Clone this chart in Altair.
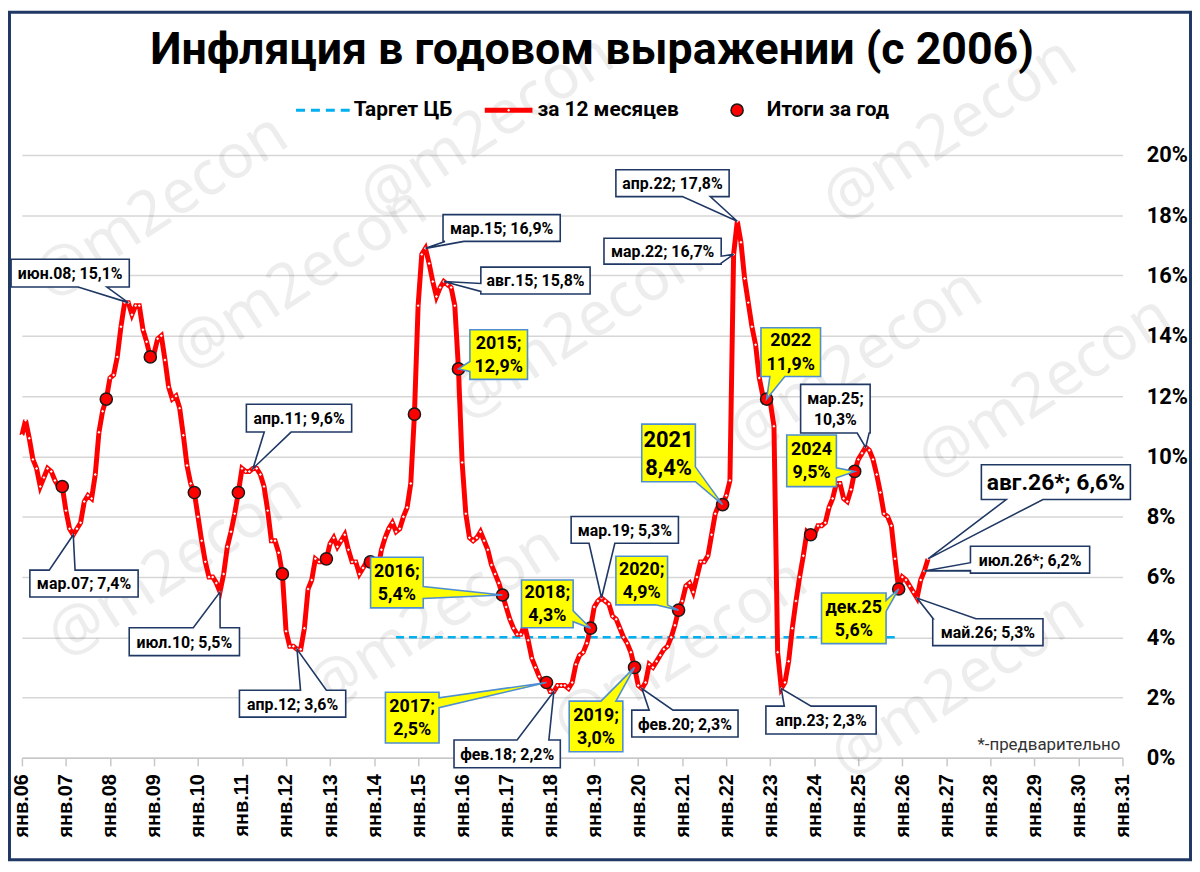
import altair as alt
import pandas as pd

# ---------------- data ----------------
cpi_2006 = [10.7, 11.2, 10.6, 9.9, 9.6, 9.0, 9.3, 9.6, 9.5, 9.2, 9.0, 9.0]
cpi_2007 = [8.2, 7.6, 7.4, 7.6, 7.8, 8.5, 8.7, 8.6, 9.4, 10.8, 11.5, 11.9]
cpi_2008 = [12.6, 12.7, 13.3, 14.3, 15.1, 15.1, 14.7, 15.0, 15.0, 14.2, 13.8, 13.3]
cpi_2009 = [13.4, 13.9, 14.0, 13.2, 12.3, 11.9, 12.0, 11.6, 10.7, 9.7, 9.1, 8.8]
cpi_2010 = [8.0, 7.2, 6.5, 6.0, 6.0, 5.8, 5.5, 6.1, 7.0, 7.5, 8.1, 8.8]
cpi_2011 = [9.6, 9.5, 9.5, 9.6, 9.6, 9.4, 9.0, 8.2, 7.2, 7.2, 6.8, 6.1]
cpi_2012 = [4.2, 3.7, 3.7, 3.6, 3.6, 4.3, 5.6, 5.9, 6.6, 6.5, 6.5, 6.6]
cpi_2013 = [7.1, 7.3, 7.0, 7.2, 7.4, 6.9, 6.5, 6.5, 6.1, 6.3, 6.5, 6.5]
cpi_2014 = [6.1, 6.2, 6.9, 7.3, 7.6, 7.8, 7.5, 7.6, 8.0, 8.3, 9.1, 11.4]
cpi_2015 = [15.0, 16.7, 16.9, 16.4, 15.8, 15.3, 15.6, 15.8, 15.7, 15.6, 15.0, 12.9]
cpi_2016 = [9.8, 8.1, 7.3, 7.2, 7.3, 7.5, 7.2, 6.9, 6.4, 6.1, 5.8, 5.4]
cpi_2017 = [5.0, 4.6, 4.3, 4.1, 4.1, 4.4, 3.9, 3.3, 3.0, 2.7, 2.5, 2.5]
cpi_2018 = [2.2, 2.2, 2.4, 2.4, 2.4, 2.3, 2.5, 3.1, 3.4, 3.5, 3.8, 4.3]
cpi_2019 = [5.0, 5.2, 5.3, 5.2, 5.1, 4.7, 4.6, 4.3, 4.0, 3.8, 3.5, 3.0]
cpi_2020 = [2.4, 2.3, 2.5, 3.1, 3.0, 3.2, 3.4, 3.6, 3.7, 4.0, 4.4, 4.9]
cpi_2021 = [5.2, 5.7, 5.8, 5.5, 6.0, 6.5, 6.5, 6.7, 7.4, 8.1, 8.4, 8.4]
cpi_2022 = [8.7, 9.2, 16.7, 17.8, 17.1, 15.9, 15.1, 14.3, 13.7, 12.6, 12.0, 11.9]
cpi_2023 = [11.8, 11.0, 3.5, 2.3, 2.5, 3.2, 4.3, 5.2, 6.0, 6.7, 7.5, 7.4]
cpi_2024 = [7.4, 7.7, 7.7, 7.8, 8.3, 8.6, 9.1, 9.1, 8.6, 8.5, 8.9, 9.5]
cpi_2025 = [9.9, 10.1, 10.3, 10.2, 9.9, 9.4, 8.8, 8.1, 8.0, 7.7, 6.6, 5.6]
cpi_2026 = [6.0, 5.9, 5.7, 5.5, 5.3, 5.9, 6.2, 6.6]

series_years = list(range(2006, 2027))
series_values = [cpi_2006, cpi_2007, cpi_2008, cpi_2009, cpi_2010, cpi_2011, cpi_2012,
                 cpi_2013, cpi_2014, cpi_2015, cpi_2016, cpi_2017, cpi_2018, cpi_2019,
                 cpi_2020, cpi_2021, cpi_2022, cpi_2023, cpi_2024, cpi_2025, cpi_2026]

annual_years = list(range(2006, 2026))
annual_values = [9.0, 11.9, 13.3, 8.8, 8.8, 6.1, 6.6, 6.5, 11.4, 12.9,
                 5.4, 2.5, 4.3, 3.0, 4.9, 8.4, 11.9, 7.4, 9.5, 5.6]

target_value = 4.0
target_start = (2014, 7)
target_end = (2025, 12)

x_tick_years = list(range(2006, 2032))
y_ticks = list(range(0, 21, 2))

title_text = "Инфляция в годовом выражении (с 2006)"
legend_labels = ["Таргет ЦБ", "за 12 месяцев", "Итоги за год"]
footnote = "*-предварительно"
watermark = "@m2econ"

# callout texts and the month they point to
callout_labels = [
    ("июн.08; 15,1%", 2008, 6), ("мар.07; 7,4%", 2007, 3), ("июл.10; 5,5%", 2010, 7),
    ("апр.11; 9,6%", 2011, 4), ("апр.12; 3,6%", 2012, 4), ("мар.15; 16,9%", 2015, 3),
    ("авг.15; 15,8%", 2015, 8), ("фев.18; 2,2%", 2018, 2), ("мар.19; 5,3%", 2019, 3),
    ("фев.20; 2,3%", 2020, 2), ("апр.22; 17,8%", 2022, 4), ("мар.22; 16,7%", 2022, 3),
    ("апр.23; 2,3%", 2023, 4), ("мар.25;\n10,3%", 2025, 3), ("май.26; 5,3%", 2026, 5),
    ("июл.26*; 6,2%", 2026, 7), ("авг.26*; 6,6%", 2026, 8),
    ("2015;\n12,9%", 2015, 12), ("2016;\n5,4%", 2016, 12), ("2017;\n2,5%", 2017, 12),
    ("2018;\n4,3%", 2018, 12), ("2019;\n3,0%", 2019, 12), ("2020;\n4,9%", 2020, 12),
    ("2021\n8,4%", 2021, 12), ("2022\n11,9%", 2022, 12), ("2024\n9,5%", 2024, 12),
    ("дек.25\n5,6%", 2025, 12),
]

# ---------------- layout of callouts (pixel offsets from the pointed point) ----------------
# (box dx, box dy, box w, box h, wedge edge, wedge a, wedge b, style, font size)
callout_layout = [
    (-58.5, -29.7, 119, 28, "bottom", 8, 37, "white", 16),
    (10.8, 49.1, 109, 27, "top", -35, -9, "white", 16),
    (-35.9, 50, 111, 28, "top", 9, 36, "white", 16),
    (46.3, -50.6, 106, 28, "bottom", -35, -8, "white", 16),
    (-4.5, 54.8, 107, 27, "top", 8, 34, "white", 16),
    (76.7, -20.5, 118, 27, "bottom", -57, -38, "white", 16),
    (92.3, -1, 110, 27, "left", 3, 11, "white", 16),
    (-47, 62.8, 107, 28, "top", 10, 42, "white", 16),
    (23.4, -68.6, 108, 27, "bottom", -36, -10, "white", 16),
    (43.3, 35.3, 107, 27, "top", -36, -12, "white", 16),
    (-65.2, -38.3, 114, 27, "bottom", 10, 38, "white", 16),
    (-71.5, -3.2, 118, 26, "right", 5, 12, "white", 16),
    (40, 31.8, 111, 28, "top", -37, -10, "white", 16),
    (-30.5, -38.9, 70, 49, "bottom", 22, 34, "white", 16),
    (71.3, 34.4, 111, 27, "top", -55, -12, "white", 16),
    (106.4, -11.3, 120, 27, "left", 3, 11, "white", 16),
    (128.7, -77.2, 150, 35, "bottom", -50, -13, "white", 23),
    (40.5, -14.5, 58, 50, "left", 7, 17, "yellow", 18),
    (-106.3, -12.6, 53, 51, "right", 4, 16, "yellow", 18),
    (-135.2, 35.4, 54, 51, "right", -20, -10, "yellow", 18),
    (-43.5, -24.5, 52, 48, "right", 7, 18, "yellow", 18),
    (-38.8, 59.5, 54, 51, "top", 5, 20, "yellow", 18),
    (-37.1, -29.8, 52, 49, "bottom", 14, 26, "yellow", 18),
    (-54.4, -52, 54, 58, "right", 14, 29, "yellow", 22),
    (24.3, -47.3, 60, 49, "bottom", -21, -6, "yellow", 18),
    (-43.4, -10.7, 50, 52, "right", 7, 17, "yellow", 18),
    (-45.2, 29.5, 65, 51, "right", -18, -7, "yellow", 18),
]

# watermark placement (plot pixels)
wm_pos = [(140, 52), (280, 125), (468, -28), (934, -25), (559, 175), (839, 208), (1030, 235),
          (154, 414), (414, 467), (663, 500), (942, 534)]

FONT = "Roboto"
RED = "#ff0000"
NAVY = "#1f3864"
YBORDER = "#4f8fd0"

# ---------------- tables ----------------
rows = []
for yr, vals in zip(series_years, series_values):
    for m, v in enumerate(vals):
        rows.append({"t": yr + m / 12.0, "v": v})
df_line = pd.DataFrame(rows)
lookup = {(yr, m + 1): v for yr, vals in zip(series_years, series_values) for m, v in enumerate(vals)}

df_annual = pd.DataFrame({"t": [y + 11 / 12.0 for y in annual_years], "v": annual_values})
df_target = pd.DataFrame({
    "t": [target_start[0] + (target_start[1] - 1) / 12.0, target_end[0] + (target_end[1] - 1) / 12.0],
    "v": [target_value, target_value],
})
one = pd.DataFrame({"a": [0]})

X = alt.X("t:Q", scale=alt.Scale(domain=[2006, 2031], nice=False, zero=False),
          axis=alt.Axis(values=x_tick_years, labelExpr="'янв.' + substring(datum.value + '', 2, 4)",
                        labelAngle=270, labelAlign="right", labelBaseline="middle",
                        labelFont="Liberation Sans", labelFontWeight="bold", labelFontSize=20,
                        labelColor="#000", labelPadding=8, tickSize=8, tickColor="#c8c8c8",
                        tickWidth=1.5, domainColor="#c8c8c8", domainWidth=1.5, grid=False,
                        title=None, orient="bottom"))
Y = alt.Y("v:Q", scale=alt.Scale(domain=[0, 20], nice=False, zero=True),
          axis=alt.Axis(values=y_ticks, labelExpr="datum.value + '%'", orient="right",
                        labelFont=FONT, labelFontWeight="bold", labelFontSize=22, labelColor="#000",
                        labelPadding=24, domain=False, ticks=False, grid=True,
                        gridColor="#d6d6d6", gridWidth=1.5, title=None))


def callout_path(bx, by, w, h, edge, a, b):
    L, R, T, B = bx - w / 2, bx + w / 2, by - h / 2, by + h / 2
    pts = [(L, T)]
    if edge == "top":
        pts += [(bx + a, T), (0, 0), (bx + b, T)]
    pts.append((R, T))
    if edge == "right":
        pts += [(R, by + a), (0, 0), (R, by + b)]
    pts.append((R, B))
    if edge == "bottom":
        pts += [(bx + b, B), (0, 0), (bx + a, B)]
    pts.append((L, B))
    if edge == "left":
        pts += [(L, by + b), (0, 0), (L, by + a)]
    return "M" + "L".join(f"{x:.1f},{y:.1f}" for x, y in pts) + "Z"


layers = []

for px, py in wm_pos:
    layers.append(alt.Chart(one).mark_text(text=watermark, angle=327, fontSize=62, font="Noto Sans",
                                           color="#000000", opacity=0.065, align="center",
                                           baseline="middle")
                  .encode(x=alt.value(px), y=alt.value(py)))

# outer frame
layers.append(alt.Chart(one).mark_rect(fill="transparent", stroke=NAVY, strokeWidth=3)
              .encode(x=alt.value(-12.5), x2=alt.value(1176.5), y=alt.value(-143.5), y2=alt.value(709.5)))

# target
layers.append(alt.Chart(df_target).mark_line(color="#00b0f0", strokeWidth=2.5, strokeDash=[8, 5])
              .encode(x=X, y=Y))
# monthly line
layers.append(alt.Chart(df_line).mark_line(color=RED, strokeWidth=5).encode(x=X, y=Y))
layers.append(alt.Chart(df_line).mark_point(shape="diamond", filled=True, color="white",
                                            size=9, opacity=1).encode(x=X, y=Y))
# annual results
layers.append(alt.Chart(df_annual).mark_point(shape="circle", filled=True, fill=RED, stroke="#1a1a1a",
                                              strokeWidth=1.5, size=150, opacity=1).encode(x=X, y=Y))

# callouts
for (label, yr, mo), (bx, by, w, h, edge, a, b, style, fs) in zip(callout_labels, callout_layout):
    d = pd.DataFrame({"t": [yr + (mo - 1) / 12.0], "v": [lookup[(yr, mo)]]})
    path = callout_path(bx, by, w, h, edge, a, b)
    if style == "white":
        fill, stroke = "white", NAVY
    else:
        fill, stroke = "#ffff00", YBORDER
    lh = round(fs * 1.3, 1)
    nlines = label.count("\n") + 1
    layers.append(alt.Chart(d).mark_point(shape=path, size=4, filled=True, fill=fill, stroke=stroke,
                                          strokeWidth=1.6, opacity=1, fillOpacity=1, strokeJoin="miter")
                  .encode(x=X, y=Y))
    layers.append(alt.Chart(d).mark_text(text=label, dx=bx, dy=by + 1 - (nlines - 1) * lh / 2,
                                         align="center", baseline="middle",
                                         lineBreak="\n", lineHeight=lh, font=FONT,
                                         fontWeight="bold", fontSize=fs, color="#000")
                  .encode(x=X, y=Y))

# title
layers.append(alt.Chart(one).mark_text(text=title_text, font=FONT, fontWeight="bold", fontSize=45,
                                       color="#000", align="center", baseline="middle")
              .encode(x=alt.value(574), y=alt.value(-106)))

# legend
LY = -45
layers.append(alt.Chart(one).mark_rule(color="#00b0f0", strokeWidth=3, strokeDash=[9, 6])
              .encode(x=alt.value(276), x2=alt.value(330), y=alt.value(LY)))
layers.append(alt.Chart(one).mark_rule(color=RED, strokeWidth=5)
              .encode(x=alt.value(466), x2=alt.value(514), y=alt.value(LY)))
layers.append(alt.Chart(one).mark_point(shape="diamond", filled=True, color="white", size=9, opacity=1)
              .encode(x=alt.value(490), y=alt.value(LY)))
layers.append(alt.Chart(one).mark_point(shape="circle", filled=True, fill=RED, stroke="#1a1a1a",
                                        strokeWidth=1.5, size=150, opacity=1)
              .encode(x=alt.value(720), y=alt.value(LY)))
for txt, lx in zip(legend_labels, [334, 519, 750]):
    layers.append(alt.Chart(one).mark_text(text=txt, font=FONT, fontWeight="bold", fontSize=21,
                                           color="#000", align="left", baseline="middle")
                  .encode(x=alt.value(lx), y=alt.value(LY)))

# footnote
layers.append(alt.Chart(one).mark_text(text=footnote, font=FONT, fontSize=17, color="#333",
                                       align="right", baseline="middle")
              .encode(x=alt.value(1106), y=alt.value(-153 + 747)))

chart = alt.layer(*layers).properties(
    width=1108, height=607,
    padding={"left": 14, "top": 145, "right": 70, "bottom": 104},
    autosize=alt.AutoSizeParams(type="none"),
    background="white",
).configure_view(stroke=None)

chart.save("out.html", embed_options={"renderer": "svg", "actions": False})
